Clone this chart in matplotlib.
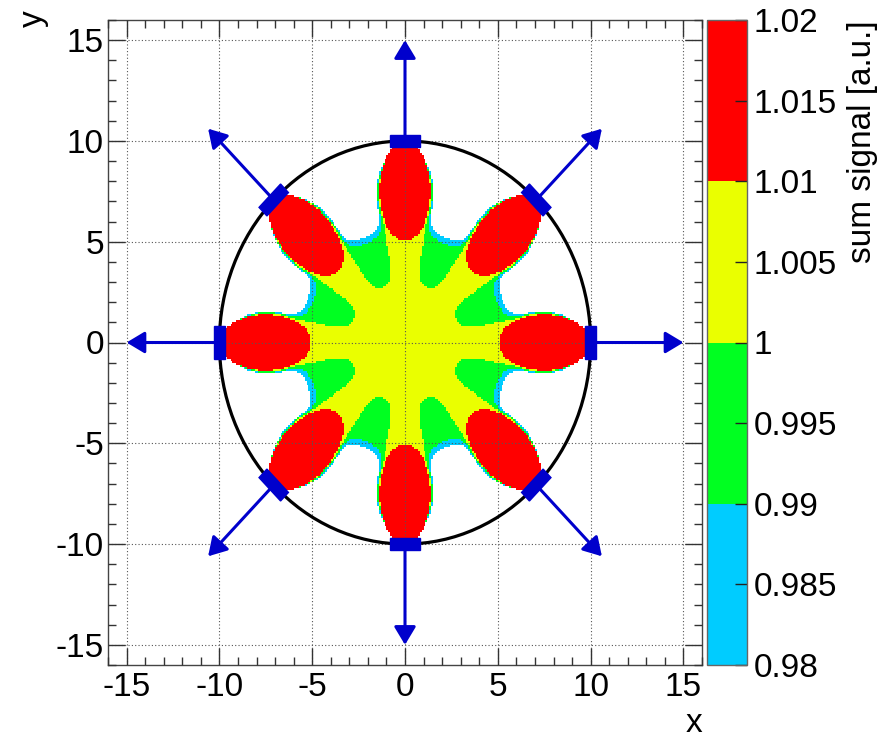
import numpy as np
import matplotlib
matplotlib.use("Agg")
import matplotlib.pyplot as plt
from matplotlib.colors import ListedColormap, BoundaryNorm
from matplotlib.patches import Circle, Polygon
from matplotlib.ticker import MultipleLocator

plt.rcParams['font.family'] = ['Liberation Sans', 'DejaVu Sans']

# detector geometry
sensor_angles = [0, 45, 90, 135, 180, 225, 270, 315]   # degrees
sensor_radius = 10.0
arrow_tip_radius = 15.0

# contour levels of the sum signal and their colours
levels = [0.98, 0.99, 1.0, 1.01, 1.02]
level_colors = ['#00ccff', '#00ff21', '#eaff00', '#ff0000']
cbar_ticks = [0.98, 0.985, 0.99, 0.995, 1.0, 1.005, 1.01, 1.015, 1.02]
cbar_labels = ['0.98', '0.985', '0.99', '0.995', '1', '1.005', '1.01', '1.015', '1.02']
axis_ticks = [-15, -10, -5, 0, 5, 10, 15]

# shape of the response
lobe_center, lobe_a, lobe_b = 7.5, 2.45, 1.37      # red lobe ellipse (radial, tangential)
arm_half_angle = 10.6                               # yellow arm near the middle (deg)
tip_radius = [3.0, 5.35, 5.65]                      # where 1.0 / 0.99 / 0.98 cross on the mid line
fringe = [0.5, 0.95, 1.35]                          # extra angle beside the lobe (deg)
tip_width = [0.33, 0.3, 0.3]
band_values = [1.005, 0.995, 0.985, 0.97]

# histogram binning like the original 2D map
edges = np.arange(-10, 10.001, 0.1)
centers = 0.5 * (edges[1:] + edges[:-1])
X, Y = np.meshgrid(centers, centers)
R = np.hypot(X, Y)
theta = np.degrees(np.arctan2(Y, X))
phi = (theta + 22.5) % 45 - 22.5        # angle to nearest sensor axis
psi = np.abs(phi)

u = R * np.cos(np.radians(phi)) - lobe_center
v = R * np.sin(np.radians(phi))
q = np.sqrt((u / lobe_a) ** 2 + (v / lobe_b) ** 2)

# half angle of the red lobe at radius r
inside = np.clip(1 - ((R - lobe_center) / lobe_a) ** 2, 0, None)
lobe_half = np.degrees(np.arctan2(lobe_b * np.sqrt(inside), np.maximum(R, 1e-6)))
envelope = np.where(R > lobe_center, lobe_half, np.maximum(lobe_half, arm_half_angle))
# the fringes die out towards the wall
taper = np.clip((9.6 - R) / 1.6, 0, 1)

bounds = []
for rk, ek, lk in zip(tip_radius, fringe, tip_width):
    grow = np.sqrt(np.clip(1 - np.exp(-(R - rk) / lk), 0, 1))
    bounds.append(22.5 - np.clip(22.5 - envelope - ek * taper, 0, None) * grow)

signal = np.full(R.shape, band_values[3])
signal = np.where(psi <= bounds[2], band_values[2], signal)
signal = np.where(psi <= bounds[1], band_values[1], signal)
signal = np.where(psi <= bounds[0], band_values[0], signal)
signal = np.where(q < 1, 1.019 - 0.009 * q, signal)
signal = np.ma.masked_where((R > sensor_radius) | (signal < levels[0]), signal)

cmap = ListedColormap(level_colors)
norm = BoundaryNorm(levels, cmap.N)

fig = plt.figure(figsize=(8.77, 7.40), dpi=100)
ax = fig.add_axes([108 / 877, 75 / 740, 594 / 877, 645 / 740])
cax = fig.add_axes([707 / 877, 75 / 740, 40 / 877, 645 / 740])

mesh = ax.pcolormesh(edges, edges, signal, cmap=cmap, norm=norm, zorder=1)

ax.add_patch(Circle((0, 0), sensor_radius, fill=False, color='black', lw=2.3, zorder=3))

blue = '#0000cc'
for ang in sensor_angles:
    t = np.radians(ang)
    er = np.array([np.cos(t), np.sin(t)])
    et = np.array([-np.sin(t), np.cos(t)])
    c = sensor_radius * er
    corners = [c - 0.3 * er - 0.82 * et, c + 0.3 * er - 0.82 * et,
               c + 0.3 * er + 0.82 * et, c - 0.3 * er + 0.82 * et]
    ax.add_patch(Polygon(corners, closed=True, color=blue, zorder=4))
    ax.annotate('', xy=tuple(arrow_tip_radius * er), xytext=tuple(c),
                arrowprops=dict(arrowstyle='-|>,head_length=0.55,head_width=0.33',
                                color=blue, lw=2.2, mutation_scale=20,
                                shrinkA=0, shrinkB=0), zorder=5)

ax.set_xlim(-16, 16)
ax.set_ylim(-16, 16)
ax.set_xticks(axis_ticks)
ax.set_yticks(axis_ticks)
ax.set_xticklabels([str(t) for t in axis_ticks])
ax.set_yticklabels([str(t) for t in axis_ticks])
ax.xaxis.set_minor_locator(MultipleLocator(1))
ax.yaxis.set_minor_locator(MultipleLocator(1))
ax.tick_params(which='both', direction='in', top=True, right=True, color='#333333',
               labelsize=24)
ax.tick_params(which='major', length=12, width=1)
ax.tick_params(which='minor', length=6, width=1)
ax.tick_params(axis='x', pad=5)
ax.tick_params(axis='y', pad=3)
ax.grid(True, which='major', color='#555555', linestyle=(0, (1, 2)), lw=0.8, zorder=2)
ax.set_axisbelow(False)
for sp in ax.spines.values():
    sp.set_color('#444444')
    sp.set_linewidth(1)

cb = fig.colorbar(mesh, cax=cax, ticks=cbar_ticks)
cb.ax.set_yticklabels(cbar_labels)
cb.ax.tick_params(direction='in', length=9, width=1, labelsize=24, pad=5, color='#222222')
cb.outline.set_edgecolor('#666666')
cb.outline.set_linewidth(1)

fig.text(862 / 877, 1 - 20 / 740, 'sum signal [a.u.]', rotation=90, ha='center', va='top', fontsize=24)
fig.text(702 / 877, 1 / 740, 'x', ha='right', va='bottom', fontsize=24)
fig.text(33 / 877, 1 - 10 / 740, 'y', rotation=90, ha='center', va='top', fontsize=24)

fig.savefig('out.png', dpi=100, facecolor='white')
